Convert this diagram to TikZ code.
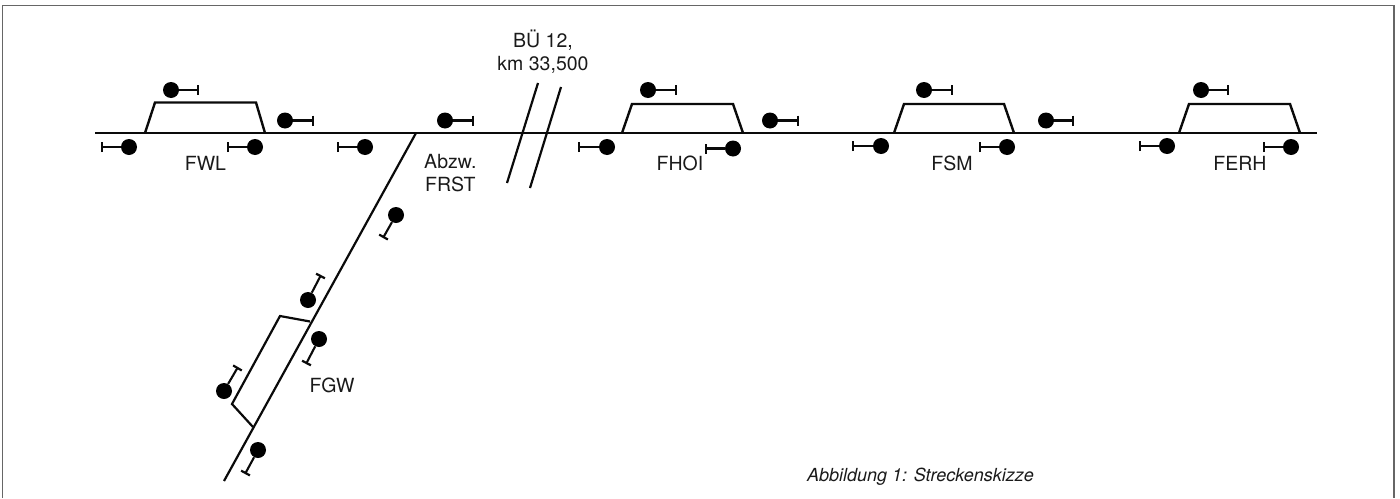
\documentclass[tikz,border=0pt]{standalone}
\usepackage{fontspec}
\setmainfont{TeX Gyre Heros}
\usetikzlibrary{arrows.meta}
\definecolor{ink}{HTML}{0A0A0A}
\definecolor{txt}{HTML}{1A1A1A}
\definecolor{framec}{HTML}{666666}
\tikzset{
  track/.style={draw=ink,line width=2.4pt,line join=miter,line cap=butt},
  thin track/.style={draw=ink,line width=2.2pt},
  lamp/.style={circle,fill=black,draw=none,inner sep=0pt,minimum size=16pt},
  post/.style={draw=ink,line width=2.1pt,-{Bar[width=10pt,length=0pt,line width=2.2pt]}},
  lbl/.style={text=txt,font=\fontsize{19.5}{23}\selectfont,inner sep=0pt},
  frameline/.style={draw=framec,line width=1.8pt},
}
% \sig{name}{lamp x,y}{bar x,y}
\newcommand{\sig}[3]{%
  \node[lamp] (#1) at (#2) {};
  \coordinate (#1e) at (#3);
  \draw[post] (#1) -- (#1e);
}
\begin{document}
\begin{tikzpicture}[x=1pt,y=-1pt]
\useasboundingbox (0,0) rectangle (1400,498);
\draw[frameline] (2.5,498) -- (2.5,5.5) -- (1394,5.5) -- (1394,498);

% main line
\coordinate (mA) at (95,133);
\coordinate (mB) at (1317,133);
\draw[track] (mA) -- (mB);

% stations
\coordinate (a1) at (145,133); \coordinate (a2) at (155,102.5); \coordinate (a3) at (256,102.5); \coordinate (a4) at (265,133);
\draw[track] (a1) -- (a2) -- (a3) -- (a4);
\coordinate (b1) at (622,133); \coordinate (b2) at (632,104); \coordinate (b3) at (733,104); \coordinate (b4) at (743,133);
\draw[track] (b1) -- (b2) -- (b3) -- (b4);
\coordinate (c1) at (894,133); \coordinate (c2) at (904,104); \coordinate (c3) at (1004,104); \coordinate (c4) at (1014,133);
\draw[track] (c1) -- (c2) -- (c3) -- (c4);
\coordinate (d1) at (1179,133); \coordinate (d2) at (1189,104); \coordinate (d3) at (1290,104); \coordinate (d4) at (1300,133);
\draw[track] (d1) -- (d2) -- (d3) -- (d4);

% branch
\coordinate (brA) at (416,133);
\coordinate (brB) at (224,481);
\draw[thin track] (brA) -- (brB);
\coordinate (s1) at (310,321.5); \coordinate (s2) at (280,316); \coordinate (s3) at (232,404); \coordinate (s4) at (253,427);
\draw[thin track] (s1) -- (s2) -- (s3) -- (s4);

% level crossing
\coordinate (x1a) at (538,83); \coordinate (x1b) at (507,183);
\coordinate (x2a) at (561,87); \coordinate (x2b) at (530,188);
\draw[thin track] (x1a) -- (x1b);
\draw[thin track] (x2a) -- (x2b);

% signals
\sig{s01}{171,90}{199,90}
\sig{s02}{285,120.5}{314,120.5}
\sig{s03}{129,147}{101,147}
\sig{s04}{255,147}{227,147}
\sig{s05}{365,147}{337,147}
\sig{s06}{445,120.5}{474,120.5}
\sig{s07}{648,90}{677,90}
\sig{s08}{770,120.5}{799,120.5}
\sig{s09}{607,147}{578,147}
\sig{s10}{733,148.5}{705,148.5}
\sig{s11}{881,146}{852,146}
\sig{s12}{924,90}{953,90}
\sig{s13}{1046,120.5}{1074,120.5}
\sig{s14}{1007,147}{979,147}
\sig{s15}{1167,146}{1139,146}
\sig{s16}{1291,147}{1263,147}
\sig{s17}{1201,90}{1229,90}
\sig{s18}{396,215}{383,238}
\sig{s19}{308,300}{321,275}
\sig{s20}{319,339}{306,364}
\sig{s21}{224,391}{238,367}
\sig{s22}{258,450}{245,474}

% labels
\node[lbl,anchor=base] (tbu) at (543,47.5) {BÜ 12,};
\node[lbl,anchor=base] (tkm) at (543,70.5) {km 33,500};
\node[lbl,anchor=base] (tfwl) at (205.5,170) {FWL};
\node[lbl,anchor=base west] (tabz) at (424,168) {Abzw.};
\node[lbl,anchor=base west] (tfrst) at (425,191.5) {FRST};
\node[lbl,anchor=base] (tfhoi) at (680,170) {FHOI};
\node[lbl,anchor=base] (tfsm) at (952,170) {FSM};
\node[lbl,anchor=base] (tferh) at (1240,170) {FERH};
\node[lbl,anchor=base] (tfgw) at (332,392) {FGW};
\node[lbl,anchor=base west,font=\fontsize{18}{21}\selectfont\itshape] (tcap) at (807,481) {Abbildung 1: Streckenskizze};
\end{tikzpicture}
\end{document}
